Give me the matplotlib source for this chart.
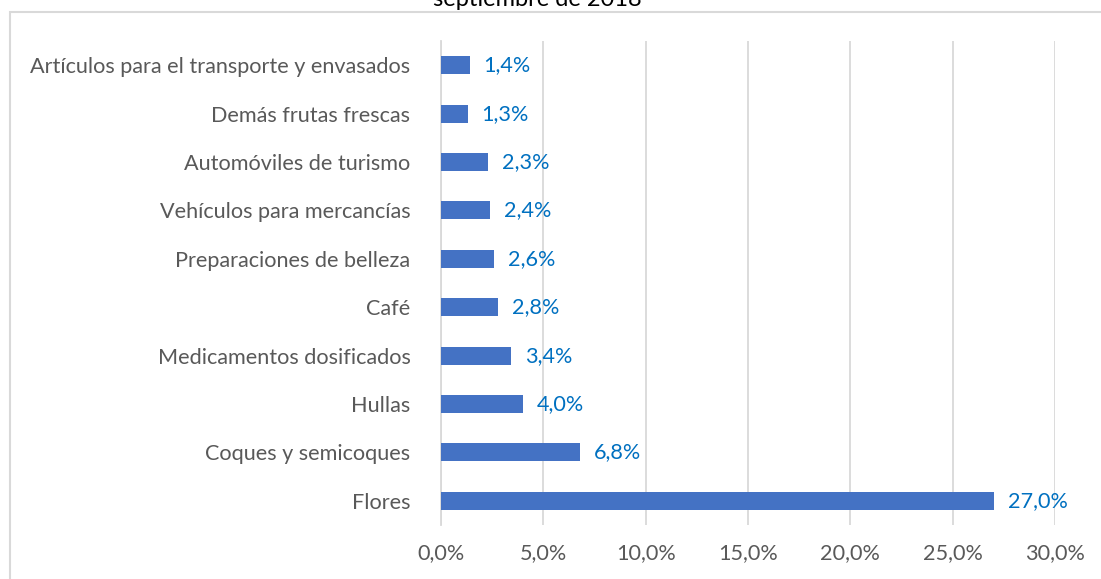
import matplotlib
matplotlib.use("Agg")
import matplotlib.pyplot as plt
from matplotlib.patches import Rectangle

categories = ["Flores", "Coques y semicoques", "Hullas", "Medicamentos dosificados",
              "Café", "Preparaciones de belleza", "Vehículos para mercancías",
              "Automóviles de turismo", "Demás frutas frescas",
              "Artículos para el transporte y envasados"]
values = [27.0, 6.8, 4.0, 3.4, 2.8, 2.6, 2.4, 2.3, 1.3, 1.4]
xticks = [0, 5, 10, 15, 20, 25, 30]
title = "septiembre de 2018"

plt.rcParams['font.family'] = ['Lato', 'DejaVu Sans']

W, H = 1101, 579
fig = plt.figure(figsize=(W/100, H/100), dpi=100)
fig.patch.set_facecolor('white')

# outer chart frame
fig.add_artist(Rectangle((10/W, -0.05), 1.2, 1 - 12/H + 0.05, transform=fig.transFigure,
                         fill=False, edgecolor='#D9D9D9', linewidth=1.5))
fig.text(537/W, 1 + 1/H, title, ha='center', va='center', fontsize=17, color='#000000')

ax = fig.add_axes([441/W, 1 - 525/H, (1055-441)/W, (525-41)/H])
y = list(range(len(categories)))
ax.barh(y, values, height=0.37, color='#4472C4', zorder=3)
ax.set_ylim(-0.5, len(categories) - 0.5)
ax.set_xlim(0, 30)
ax.set_xticks(xticks)
ax.set_xticklabels([f"{t:.1f}%".replace('.', ',') for t in xticks])
ax.set_yticks(y)
ax.set_yticklabels(categories)
ax.tick_params(axis='both', length=0, labelsize=15.6, colors='#595959')
ax.tick_params(axis='y', pad=22)
ax.tick_params(axis='x', pad=13)
ax.grid(axis='x', color='#D9D9D9', linewidth=1.3, zorder=0)
for s in ['top', 'right', 'bottom']:
    ax.spines[s].set_visible(False)
ax.spines['left'].set_color('#D9D9D9')
ax.spines['left'].set_linewidth(1.3)

for yi, v in zip(y, values):
    ax.annotate(f"{v:.1f}%".replace('.', ','), (v, yi), xytext=(14, 0),
                textcoords='offset pixels',
                va='center', ha='left', fontsize=15.6, color='#0070C0')

fig.savefig("out.png", dpi=100)
